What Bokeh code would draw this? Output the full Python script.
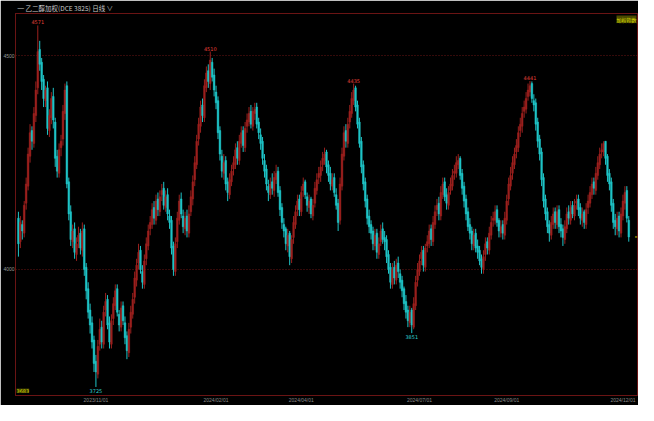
from bokeh.core.properties import value
from bokeh.embed import file_html
from bokeh.models import ColumnDataSource, FixedTicker, Label, Range1d
from bokeh.plotting import figure
from bokeh.resources import INLINE

# daily candles, ethylene glycol weighted index
opens = [
    4120, 4065, 4105, 4085, 4155, 4195, 4265, 4325, 4295, 4360,
    4425, 4515, 4485, 4445, 4395, 4425, 4325, 4355, 4405, 4345,
    4265, 4225, 4285, 4305, 4365, 4430, 4205, 4135, 4065, 4095,
    4035, 4065, 4085, 4045, 4095, 4005, 3955, 3905, 3875, 3835,
    3785, 3755, 3825, 3865, 3825, 3905, 3930, 3875, 3825, 3885,
    3915, 3955, 3895, 3865, 3915, 3875, 3845, 3805, 3865, 3895,
    3935, 3975, 4015, 4045, 3995, 3965, 4025, 4055, 4095, 4105,
    4145, 4115, 4165, 4135, 4175, 4190, 4145, 4175, 4125, 4115,
    4055, 3995, 4065, 4115, 4165, 4125, 4095, 4125, 4085, 4135,
    4165, 4210, 4245, 4305, 4335, 4385, 4355, 4425, 4465, 4435,
    4485, 4455, 4415, 4395, 4325, 4265, 4225, 4255, 4205, 4175,
    4205, 4235, 4245, 4285, 4255, 4295, 4325, 4285, 4335, 4345,
    4370, 4335, 4365, 4380, 4345, 4315, 4300, 4255, 4235, 4195,
    4175, 4205, 4185, 4210, 4230, 4185, 4145, 4105, 4095, 4055,
    4085, 4025, 4075, 4105, 4140, 4165, 4135, 4185, 4205, 4170,
    4145, 4165, 4125, 4155, 4185, 4215, 4220, 4245, 4255, 4275,
    4245, 4225, 4195, 4215, 4175, 4155, 4115, 4195, 4265, 4325,
    4295, 4345, 4365, 4395, 4425, 4385, 4345, 4300, 4245, 4205,
    4165, 4125, 4105, 4090, 4055, 4085, 4035, 4065, 4095, 4075,
    4070, 4035, 4005, 3965, 4005, 3975, 4015, 3990, 3975, 3955,
    3925, 3905, 3875, 3905, 3865, 3915, 3975, 3995, 4025, 4045,
    4005, 4055, 4060, 4095, 4065, 4105, 4140, 4155, 4125, 4175,
    4205, 4175, 4150, 4185, 4195, 4225, 4225, 4245, 4260, 4225,
    4195, 4165, 4135, 4105, 4090, 4055, 4085, 4055, 4045, 4025,
    4000, 4035, 4065, 4045, 4080, 4115, 4115, 4140, 4115, 4085,
    4105, 4080, 4115, 4165, 4195, 4225, 4245, 4275, 4285, 4325,
    4335, 4370, 4375, 4405, 4415, 4435, 4395, 4390, 4345, 4305,
    4275, 4215, 4165, 4135, 4105, 4080, 4105, 4135, 4105, 4140,
    4105, 4095, 4070, 4095, 4135, 4115, 4150, 4125, 4155, 4165,
    4145, 4115, 4135, 4105, 4145, 4155, 4175, 4205, 4185, 4220,
    4245, 4275, 4275, 4300, 4265, 4225, 4205, 4155, 4115, 4095,
    4125, 4085, 4125, 4155, 4185, 4115,
]
highs = [
    4135, 4125, 4115, 4160, 4215, 4285, 4340, 4335, 4380, 4440,
    4571, 4535, 4495, 4455, 4430, 4440, 4375, 4415, 4425, 4355,
    4280, 4295, 4315, 4385, 4435, 4440, 4215, 4150, 4105, 4110,
    4075, 4100, 4095, 4110, 4105, 4015, 3970, 3920, 3890, 3845,
    3800, 3835, 3885, 3880, 3915, 3945, 3940, 3890, 3895, 3935,
    3965, 3965, 3905, 3925, 3925, 3890, 3855, 3875, 3915, 3945,
    3995, 4025, 4060, 4055, 4010, 4035, 4075, 4105, 4125, 4155,
    4160, 4175, 4180, 4185, 4200, 4205, 4185, 4190, 4140, 4125,
    4065, 4075, 4135, 4175, 4180, 4140, 4135, 4140, 4150, 4185,
    4220, 4265, 4315, 4355, 4395, 4400, 4445, 4475, 4480, 4510,
    4495, 4470, 4430, 4405, 4335, 4280, 4270, 4265, 4215, 4225,
    4245, 4265, 4295, 4300, 4315, 4335, 4335, 4345, 4365, 4380,
    4385, 4380, 4390, 4390, 4355, 4330, 4310, 4270, 4245, 4210,
    4215, 4225, 4230, 4245, 4240, 4195, 4155, 4120, 4100, 4095,
    4090, 4080, 4125, 4150, 4175, 4175, 4195, 4215, 4210, 4180,
    4175, 4170, 4165, 4205, 4225, 4240, 4255, 4275, 4285, 4280,
    4255, 4240, 4225, 4225, 4190, 4165, 4215, 4285, 4335, 4340,
    4355, 4385, 4415, 4435, 4430, 4395, 4355, 4310, 4255, 4215,
    4175, 4140, 4115, 4100, 4095, 4095, 4075, 4105, 4110, 4090,
    4080, 4045, 4015, 4015, 4020, 4025, 4030, 4000, 3985, 3960,
    3940, 3915, 3915, 3910, 3935, 3985, 4015, 4035, 4055, 4055,
    4060, 4080, 4105, 4105, 4125, 4150, 4165, 4170, 4195, 4215,
    4215, 4190, 4195, 4215, 4235, 4245, 4265, 4270, 4265, 4235,
    4205, 4175, 4145, 4120, 4100, 4095, 4095, 4070, 4055, 4035,
    4045, 4075, 4075, 4100, 4125, 4135, 4150, 4150, 4120, 4115,
    4115, 4135, 4175, 4215, 4240, 4265, 4285, 4305, 4335, 4355,
    4380, 4395, 4415, 4435, 4441, 4440, 4410, 4400, 4355, 4315,
    4285, 4225, 4175, 4145, 4115, 4125, 4145, 4145, 4150, 4150,
    4120, 4105, 4115, 4145, 4150, 4160, 4160, 4165, 4175, 4175,
    4155, 4145, 4140, 4155, 4175, 4195, 4215, 4215, 4240, 4265,
    4285, 4295, 4300, 4300, 4270, 4235, 4215, 4165, 4130, 4135,
    4135, 4145, 4175, 4195, 4195, 4125,
]
lows = [
    4030, 4050, 4070, 4075, 4140, 4185, 4250, 4280, 4285, 4345,
    4410, 4465, 4420, 4380, 4380, 4315, 4310, 4340, 4330, 4240,
    4215, 4215, 4265, 4290, 4350, 4190, 4115, 4055, 4050, 4025,
    4020, 4050, 4035, 4030, 3985, 3930, 3885, 3850, 3815, 3760,
    3725, 3745, 3810, 3815, 3815, 3890, 3860, 3815, 3815, 3870,
    3905, 3890, 3855, 3855, 3870, 3825, 3790, 3795, 3850, 3885,
    3920, 3960, 4000, 3990, 3955, 3955, 4010, 4045, 4080, 4095,
    4105, 4105, 4125, 4125, 4160, 4140, 4135, 4115, 4095, 4035,
    3985, 3985, 4050, 4105, 4120, 4085, 4080, 4075, 4075, 4125,
    4150, 4195, 4235, 4290, 4320, 4345, 4345, 4415, 4425, 4420,
    4440, 4405, 4375, 4305, 4255, 4215, 4210, 4185, 4160, 4165,
    4195, 4220, 4235, 4245, 4245, 4285, 4275, 4275, 4320, 4335,
    4330, 4325, 4350, 4330, 4305, 4280, 4245, 4215, 4185, 4160,
    4165, 4175, 4170, 4200, 4170, 4125, 4095, 4075, 4045, 4040,
    4010, 4015, 4060, 4095, 4125, 4125, 4125, 4170, 4165, 4135,
    4130, 4120, 4115, 4145, 4175, 4200, 4205, 4230, 4245, 4225,
    4205, 4185, 4185, 4170, 4140, 4090, 4105, 4185, 4255, 4285,
    4285, 4330, 4355, 4385, 4370, 4330, 4285, 4225, 4185, 4145,
    4105, 4085, 4070, 4045, 4045, 4025, 4025, 4055, 4060, 4045,
    4015, 3990, 3955, 3955, 3965, 3965, 3980, 3955, 3935, 3905,
    3885, 3865, 3865, 3851, 3860, 3905, 3960, 3985, 4010, 3995,
    3995, 4040, 4050, 4055, 4055, 4095, 4125, 4115, 4115, 4165,
    4160, 4140, 4140, 4175, 4185, 4210, 4215, 4235, 4210, 4175,
    4145, 4115, 4090, 4070, 4045, 4045, 4040, 4025, 4010, 3990,
    3990, 4020, 4035, 4035, 4070, 4100, 4105, 4100, 4075, 4075,
    4070, 4070, 4105, 4150, 4185, 4210, 4235, 4260, 4275, 4310,
    4320, 4355, 4365, 4395, 4405, 4390, 4370, 4325, 4285, 4255,
    4195, 4145, 4115, 4085, 4065, 4070, 4095, 4095, 4095, 4085,
    4075, 4055, 4060, 4085, 4105, 4105, 4120, 4115, 4140, 4125,
    4105, 4100, 4095, 4095, 4130, 4145, 4165, 4175, 4175, 4210,
    4235, 4260, 4265, 4245, 4205, 4185, 4135, 4095, 4080, 4080,
    4075, 4075, 4115, 4140, 4110, 4065,
]
closes = [
    4060, 4110, 4090, 4150, 4200, 4270, 4320, 4300, 4365, 4420,
    4510, 4480, 4440, 4400, 4420, 4330, 4360, 4400, 4350, 4260,
    4230, 4280, 4300, 4370, 4420, 4200, 4130, 4070, 4090, 4040,
    4060, 4080, 4050, 4090, 4000, 3950, 3900, 3870, 3830, 3780,
    3760, 3820, 3860, 3830, 3900, 3925, 3870, 3830, 3880, 3920,
    3950, 3900, 3870, 3910, 3880, 3840, 3810, 3860, 3900, 3930,
    3980, 4010, 4040, 4000, 3970, 4020, 4060, 4090, 4110, 4140,
    4120, 4160, 4140, 4170, 4185, 4150, 4170, 4130, 4110, 4050,
    4000, 4060, 4120, 4160, 4130, 4100, 4120, 4090, 4130, 4170,
    4205, 4250, 4300, 4340, 4380, 4360, 4430, 4460, 4440, 4490,
    4450, 4420, 4390, 4320, 4270, 4230, 4250, 4200, 4180, 4210,
    4230, 4250, 4280, 4260, 4300, 4320, 4290, 4330, 4350, 4365,
    4340, 4370, 4375, 4340, 4320, 4295, 4260, 4230, 4200, 4180,
    4200, 4190, 4215, 4225, 4180, 4140, 4110, 4090, 4060, 4080,
    4030, 4070, 4110, 4135, 4160, 4140, 4180, 4200, 4175, 4150,
    4160, 4130, 4150, 4190, 4210, 4225, 4240, 4260, 4270, 4240,
    4220, 4200, 4210, 4180, 4150, 4110, 4200, 4270, 4320, 4300,
    4340, 4370, 4400, 4420, 4380, 4340, 4295, 4240, 4200, 4160,
    4120, 4100, 4085, 4060, 4080, 4040, 4060, 4090, 4070, 4065,
    4030, 4000, 3970, 4000, 3980, 4010, 3995, 3970, 3950, 3920,
    3900, 3880, 3900, 3870, 3920, 3970, 4000, 4020, 4040, 4010,
    4050, 4065, 4090, 4070, 4110, 4135, 4150, 4130, 4180, 4200,
    4170, 4155, 4180, 4200, 4220, 4230, 4250, 4255, 4220, 4190,
    4160, 4130, 4100, 4085, 4060, 4080, 4050, 4040, 4020, 4005,
    4030, 4060, 4050, 4085, 4110, 4120, 4135, 4110, 4090, 4100,
    4085, 4120, 4160, 4200, 4220, 4250, 4270, 4290, 4320, 4340,
    4365, 4380, 4400, 4420, 4430, 4400, 4385, 4340, 4300, 4270,
    4210, 4160, 4130, 4100, 4085, 4110, 4130, 4110, 4135, 4100,
    4090, 4075, 4100, 4130, 4120, 4145, 4130, 4150, 4160, 4140,
    4120, 4130, 4110, 4140, 4160, 4180, 4200, 4190, 4225, 4250,
    4270, 4280, 4295, 4260, 4220, 4200, 4150, 4110, 4100, 4120,
    4090, 4130, 4160, 4180, 4120, 4076,
]

tick_idx = [40, 102, 146, 207, 252, 312]
tick_labels = ["2023/11/01", "2024/02/01", "2024/04/01", "2024/07/01", "2024/09/01", "2024/12/01"]
peak_idx = [10, 99, 173, 264]
trough_idx = [40, 203]
y_bottom, y_top = 3705, 4599
axis_low_text = "3683"

UP = "#9c201e"
DOWN = "#1fc4c7"
FRAME = "#6a1414"

n = len(closes)
src = ColumnDataSource(data=dict(
    x=list(range(n)), o=opens, h=highs, l=lows, c=closes,
    color=[UP if c >= o else DOWN for o, c in zip(opens, closes)],
))

x_end = 319.5
p = figure(
    width=638, height=405,
    output_backend="svg", toolbar_location=None,
    x_range=Range1d(-1.5, x_end), y_range=Range1d(y_bottom, y_top),
    background_fill_color="black", border_fill_color="black",
    min_border_left=12, min_border_right=1, min_border_bottom=4, min_border_top=10,
    title="═ 乙二醇加权(DCE 3825)  日线 ∨",
)
p.title.text_font = "Noto Sans CJK SC"
p.title.text_font_size = "6.5px"
p.title.text_font_style = "normal"
p.title.text_color = "#c8c8c8"
p.title.standoff = 1
p.title.offset = 2
p.outline_line_color = FRAME

p.segment(x0="x", y0="h", x1="x", y1="l", color="color", line_width=1, source=src)
p.vbar(x="x", top="o", bottom="c", width=0.85, fill_color="color", line_color="color",
       line_width=0.5, source=src)

# extreme price labels
p.text(x=peak_idx, y=[highs[i] for i in peak_idx], text=[str(highs[i]) for i in peak_idx],
       text_align="center", text_baseline="bottom", y_offset=-1,
       text_font=value("DejaVu Sans"), text_font_size="5px", text_color="#e8403a")
p.text(x=trough_idx, y=[lows[i] for i in trough_idx], text=[str(lows[i]) for i in trough_idx],
       text_align="center", text_baseline="top", y_offset=2,
       text_font=value("DejaVu Sans"), text_font_size="5px", text_color="#2fd3d3")

# last price marker on the right edge
p.segment(x0=[x_end - 1.3], y0=[closes[-1]], x1=[x_end], y1=[closes[-1]], color="#c8c800", line_width=1)

p.add_layout(Label(x=-1.5, y=y_bottom, x_offset=1, y_offset=3, text=axis_low_text,
                   text_font="DejaVu Sans", text_font_size="5px", text_color="#d6d600",
                   background_fill_color="#3a3a00"))
p.add_layout(Label(x=x_end, y=y_top, x_offset=-1, y_offset=-2, text="加权指数",
                   text_align="right", text_baseline="top",
                   text_font="Noto Sans CJK SC", text_font_size="5px", text_color="#e0e000",
                   background_fill_color="#4a4a00"))

for ax in (p.xaxis, p.yaxis):
    ax.major_label_text_font_size = "5px"
    ax.major_label_standoff = 1
    ax.major_tick_out = 0
    ax.major_tick_in = 0
    ax.minor_tick_out = 0
    ax.minor_tick_in = 0
    ax.minor_tick_line_color = None
    ax.major_tick_line_color = None
    ax.axis_line_color = FRAME

p.yaxis.ticker = FixedTicker(ticks=[4000, 4500])
p.yaxis.major_label_text_color = "#9a9a9a"

p.xaxis.ticker = FixedTicker(ticks=tick_idx)
p.xaxis.major_label_overrides = {i: t for i, t in zip(tick_idx, tick_labels)}
p.xaxis.major_label_text_color = "#8a8a8a"

p.xgrid.grid_line_color = None
p.ygrid.grid_line_color = FRAME
p.ygrid.grid_line_dash = "1 2"
p.ygrid.grid_line_width = 1

open("out.html", "w").write(file_html(p, INLINE))
